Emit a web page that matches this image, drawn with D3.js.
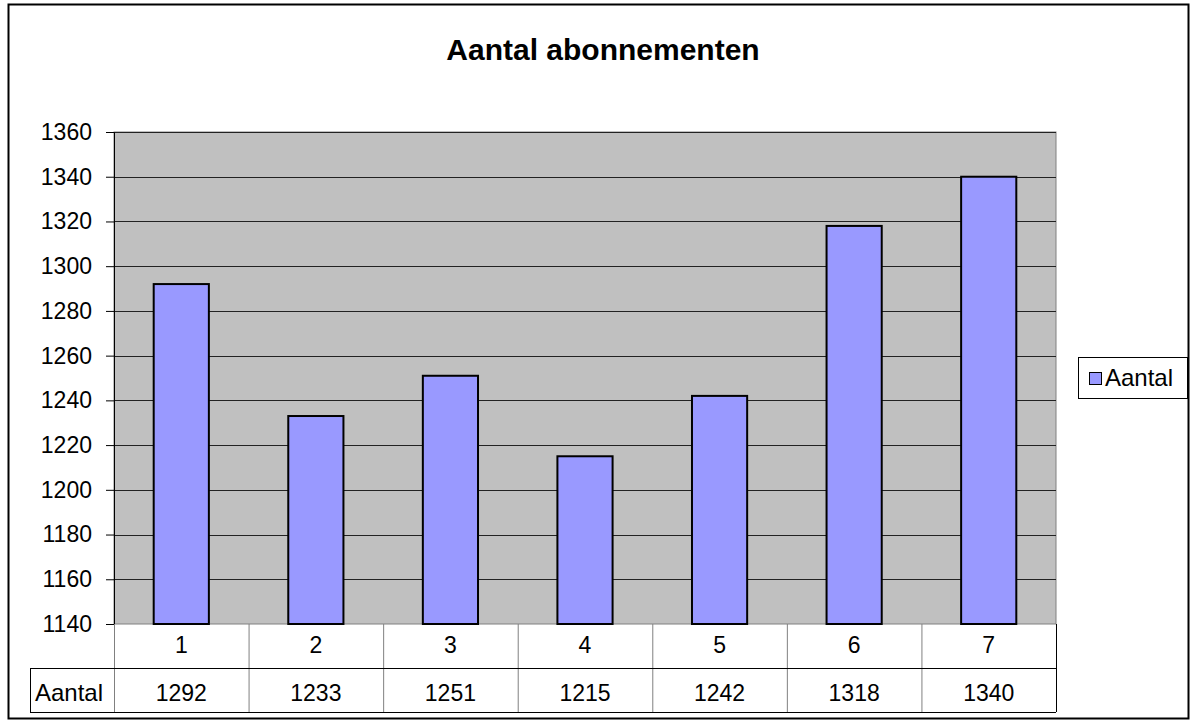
<!DOCTYPE html>
<html>
<head>
<meta charset="utf-8">
<script src="https://cdn.jsdelivr.net/npm/d3@7"></script>
<style>
  body { margin: 0; background: #fff; }
  svg { font-family: "Liberation Sans", Arial, sans-serif; }
</style>
</head>
<body>
<svg width="1192" height="728"></svg>
<script>
const categories = ["1", "2", "3", "4", "5", "6", "7"];
const values = [1292, 1233, 1251, 1215, 1242, 1318, 1340];
const yTicks = [1140, 1160, 1180, 1200, 1220, 1240, 1260, 1280, 1300, 1320, 1340, 1360];
const seriesName = "Aantal";
const title = "Aantal abonnementen";

const plot = { left: 114, top: 132, right: 1056, bottom: 624 };
const rowH = 44;
const fs = 23;

const svg = d3.select("svg");

// outer frame
svg.append("rect")
  .attr("x", 8.5).attr("y", 4.5)
  .attr("width", 1180).attr("height", 714)
  .attr("fill", "#fff").attr("stroke", "#000").attr("stroke-width", 2);

svg.append("text")
  .attr("x", 603).attr("y", 60)
  .attr("text-anchor", "middle")
  .attr("font-size", 30).attr("font-weight", "bold")
  .text(title);

const x = d3.scaleBand()
  .domain(categories)
  .range([plot.left, plot.right])
  .paddingInner(0.59).paddingOuter(0.295);

const xCell = d3.scaleBand()
  .domain(categories)
  .range([plot.left, plot.right]);

const y = d3.scaleLinear()
  .domain([1140, 1360])
  .range([plot.bottom, plot.top]);

// plot area
svg.append("rect")
  .attr("x", plot.left).attr("y", plot.top)
  .attr("width", plot.right - plot.left).attr("height", plot.bottom - plot.top)
  .attr("fill", "#c0c0c0").attr("stroke", "#808080");

// gridlines
svg.append("g")
  .selectAll("line")
  .data(yTicks.slice(1))
  .join("line")
  .attr("x1", plot.left).attr("x2", plot.right)
  .attr("y1", d => Math.round(y(d)) + 0.5).attr("y2", d => Math.round(y(d)) + 0.5)
  .attr("stroke", "#222");

// y axis
const yAxis = svg.append("g")
  .attr("transform", `translate(${plot.left},0)`)
  .call(d3.axisLeft(y).tickValues(yTicks).tickSize(8).tickPadding(14).tickFormat(d3.format("d")));
yAxis.select(".domain").attr("stroke", "#000");
yAxis.selectAll("text").attr("font-size", fs).attr("fill", "#000").attr("font-family", "Liberation Sans, Arial, sans-serif");
yAxis.selectAll("line").attr("stroke", "#000");

// bars
svg.append("g")
  .selectAll("rect")
  .data(values)
  .join("rect")
  .attr("x", (d, i) => x(categories[i]))
  .attr("width", x.bandwidth())
  .attr("y", d => y(d))
  .attr("height", d => y(1140) - y(d))
  .attr("fill", "#9999ff")
  .attr("stroke", "#000").attr("stroke-width", 2);

// data table
const t = svg.append("g");
const r1 = plot.bottom, r2 = plot.bottom + rowH, r3 = plot.bottom + 2 * rowH;
const tableLeft = 30;

t.selectAll("line.v")
  .data(categories.concat(["end"]))
  .join("line")
  .attr("class", "v")
  .attr("x1", (d, i) => i < categories.length ? xCell(d) + 0.5 : plot.right + 0.5)
  .attr("x2", (d, i) => i < categories.length ? xCell(d) + 0.5 : plot.right + 0.5)
  .attr("y1", r1).attr("y2", r3)
  .attr("stroke", (d, i) => i === categories.length ? "#000" : "#808080");

t.append("line").attr("x1", tableLeft).attr("x2", plot.right)
  .attr("y1", r2 + 0.5).attr("y2", r2 + 0.5).attr("stroke", "#000");
t.append("line").attr("x1", tableLeft).attr("x2", plot.right)
  .attr("y1", r3 + 0.5).attr("y2", r3 + 0.5).attr("stroke", "#000");
t.append("line").attr("x1", tableLeft + 0.5).attr("x2", tableLeft + 0.5)
  .attr("y1", r2).attr("y2", r3).attr("stroke", "#000");

t.selectAll("text.cat")
  .data(categories)
  .join("text")
  .attr("class", "cat")
  .attr("x", d => xCell(d) + xCell.bandwidth() / 2)
  .attr("y", r1 + 29)
  .attr("text-anchor", "middle").attr("font-size", fs)
  .text(d => d);

t.selectAll("text.val")
  .data(values)
  .join("text")
  .attr("class", "val")
  .attr("x", (d, i) => xCell(categories[i]) + xCell.bandwidth() / 2)
  .attr("y", r2 + 33)
  .attr("text-anchor", "middle").attr("font-size", fs)
  .text(d => d);

t.append("text")
  .attr("x", tableLeft + 5).attr("y", r2 + 33)
  .attr("font-size", 24)
  .text(seriesName);

// legend
const lg = svg.append("g").attr("transform", "translate(1078,357)");
lg.append("rect").attr("x", 0.5).attr("y", 0.5).attr("width", 109).attr("height", 41)
  .attr("fill", "#fff").attr("stroke", "#000");
lg.append("rect").attr("x", 11.5).attr("y", 15.5).attr("width", 12).attr("height", 12)
  .attr("fill", "#9999ff").attr("stroke", "#000");
lg.append("text").attr("x", 27).attr("y", 29).attr("font-size", 24).text(seriesName);
</script>
</body>
</html>
